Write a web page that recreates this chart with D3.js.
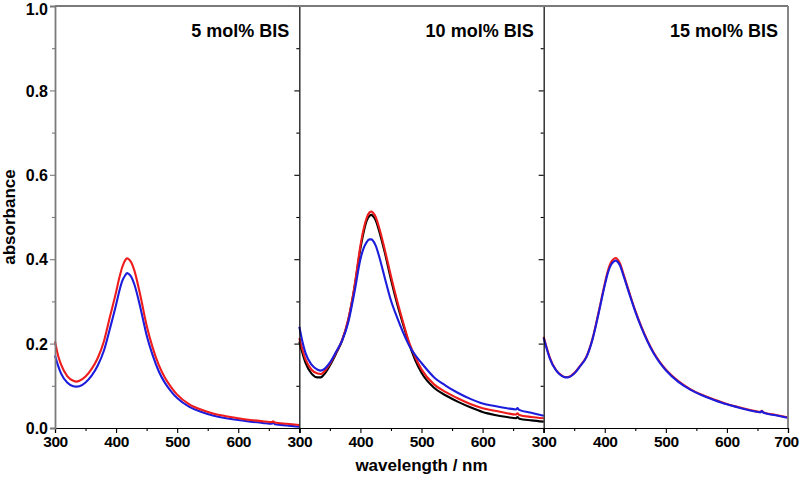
<!DOCTYPE html>
<html>
<head>
<meta charset="utf-8">
<script src="https://cdn.jsdelivr.net/npm/d3@7/dist/d3.min.js"></script>
<style>
  html, body { margin: 0; padding: 0; background: #fff; }
  svg { display: block; font-family: "Liberation Sans", Arial, sans-serif; }
</style>
</head>
<body>
<svg id="chart" width="800" height="480"></svg>
<script>
// ---------- data ----------
const wavelengths = [300,305,310,320,330,335,340,350,360,370,380,390,400,405,410,415,418,420,425,430,440,450,460,470,480,490,500,520,540,560,580,600,620,640,655,657,660,680,700];

const panelTitles = ["5 mol% BIS", "10 mol% BIS", "15 mol% BIS"];

const p1Red  = [.205,.172,.150,.123,.112,.110,.112,.122,.140,.166,.205,.264,.322,.354,.381,.398,.402,.401,.392,.373,.312,.243,.190,.149,.119,.097,.079,.056,.043,.034,.028,.023,.019,.016,.014,.016,.013,.010,.007];
const p1Blue = [.172,.148,.129,.108,.099,.098,.099,.108,.124,.148,.183,.236,.292,.323,.348,.362,.367,.366,.358,.340,.284,.220,.172,.134,.107,.087,.071,.050,.038,.029,.023,.019,.015,.012,.010,.013,.009,.006,.003];

const p2Black = [.205,.178,.155,.129,.120,.120,.126,.148,.176,.207,.255,.330,.425,.462,.490,.503,.505,.503,.492,.470,.415,.352,.295,.245,.198,.160,.131,.096,.077,.062,.049,.038,.031,.026,.023,.026,.022,.018,.015];
const p2Red   = [.213,.186,.163,.138,.129,.128,.133,.152,.178,.208,.257,.333,.432,.470,.497,.511,.513,.511,.500,.478,.422,.360,.302,.250,.202,.167,.139,.104,.085,.070,.057,.047,.041,.035,.032,.035,.031,.026,.023];
const p2Blue  = [.240,.205,.178,.150,.138,.136,.139,.155,.180,.207,.250,.320,.400,.425,.440,.447,.447,.445,.432,.410,.355,.302,.262,.226,.195,.172,.154,.121,.100,.083,.069,.058,.052,.047,.044,.047,.043,.036,.029];

const p3Red  = [.216,.190,.167,.138,.124,.121,.121,.130,.148,.169,.212,.275,.342,.372,.392,.401,.403,.401,.390,.368,.322,.278,.240,.207,.179,.157,.139,.112,.092,.078,.067,.057,.049,.042,.038,.041,.037,.031,.025];
const p3Blue = [.214,.188,.165,.137,.123,.120,.120,.129,.147,.168,.210,.272,.338,.367,.386,.395,.397,.395,.385,.364,.319,.276,.238,.205,.177,.155,.137,.110,.091,.077,.066,.056,.048,.041,.037,.040,.036,.030,.024];

const xMajorTicks = [300,400,500,600,700];
const xMinorTicks = [350,450,550,650];
const yMajorTicks = [0.0,0.2,0.4,0.6,0.8,1.0];
const yMinorTicks = [0.1,0.3,0.5,0.7,0.9];

const colors = { black: "#000000", red: "#ee1c1c", blue: "#1c1cdc" };

const panels = [
  { title: panelTitles[0], series: [{v: p1Blue, c: colors.blue}, {v: p1Red, c: colors.red}], labels: [300,400,500,600] },
  { title: panelTitles[1], series: [{v: p2Black, c: colors.black}, {v: p2Red, c: colors.red}, {v: p2Blue, c: colors.blue}], labels: [300,400,500,600] },
  { title: panelTitles[2], series: [{v: p3Red, c: colors.red}, {v: p3Blue, c: colors.blue}], labels: [300,400,500,600,700] }
];

// ---------- layout ----------
const svg = d3.select("#chart");
const mLeft = 55, mRight = 788, mTop = 6, mBottom = 428;
const pw = (mRight - mLeft) / 3;

const y = d3.scaleLinear().domain([0, 1]).range([mBottom, mTop]);

panels.forEach((p, i) => {
  const x0 = mLeft + i * pw, x1 = x0 + pw;
  const x = d3.scaleLinear().domain([300, 700]).range([x0, x1]);
  const g = svg.append("g");

  // curves
  const line = d3.line()
    .x((d, k) => x(wavelengths[k]))
    .y(d => y(d))
    .curve(d3.curveMonotoneX);
  p.series.forEach(s => {
    g.append("path").datum(s.v)
      .attr("fill", "none").attr("stroke", s.c)
      .attr("stroke-width", 2.1).attr("stroke-linejoin", "round")
      .attr("d", line);
  });

  // bottom axis
  const xa = g.append("g").attr("transform", `translate(0,${mBottom})`)
    .call(d3.axisBottom(x).tickValues(xMajorTicks).tickSize(5)
      .tickFormat(d => p.labels.includes(d) ? d3.format("d")(d) : ""));
  xa.select(".domain").attr("stroke", "#000").attr("stroke-width", 1.2);
  xa.selectAll(".tick line").attr("stroke", "#000").attr("stroke-width", 1.1);
  xa.selectAll(".tick text").attr("font-size", 15.5).attr("font-weight", "bold")
    .attr("letter-spacing", "-0.4px")
    .attr("fill", "#000").attr("y", 8).attr("dy", "0.71em")
    .attr("dx", d => d === 700 ? -2 : 0);
  const xm = g.append("g").attr("transform", `translate(0,${mBottom})`)
    .call(d3.axisBottom(x).tickValues(xMinorTicks).tickSize(3).tickFormat(""));
  xm.select(".domain").remove();
  xm.selectAll(".tick line").attr("stroke", "#000").attr("stroke-width", 1.1);

  // left axis of each panel (ticks outward)
  const axColor = i === 0 ? "#7a7a7a" : "#000";
  const ya = g.append("g").attr("transform", `translate(${x0},0)`)
    .call(d3.axisLeft(y).tickValues(yMajorTicks).tickSize(5)
      .tickFormat(d => i === 0 ? d3.format(".1f")(d) : ""));
  ya.select(".domain").attr("stroke", axColor).attr("stroke-width", i === 0 ? 1.8 : 1.2);
  ya.selectAll(".tick line").attr("stroke", axColor).attr("stroke-width", 1.1);
  ya.selectAll(".tick text").attr("font-size", 16).attr("font-weight", "bold")
    .attr("fill", "#000").attr("x", -7).attr("dy", "0.36em")
    .attr("y", d => d === 1 ? 3 : 0);
  const ym = g.append("g").attr("transform", `translate(${x0},0)`)
    .call(d3.axisLeft(y).tickValues(yMinorTicks).tickSize(3).tickFormat(""));
  ym.select(".domain").remove();
  ym.selectAll(".tick line").attr("stroke", axColor).attr("stroke-width", 1.1);

  // panel title
  g.append("text").attr("x", x1 - 10).attr("y", 37)
    .attr("text-anchor", "end").attr("font-size", 18).attr("font-weight", "bold")
    .attr("fill", "#000").text(p.title);
});

// top and right frame
svg.append("line").attr("x1", mLeft).attr("x2", mRight).attr("y1", mTop).attr("y2", mTop)
  .attr("stroke", "#7a7a7a").attr("stroke-width", 1.8);
svg.append("line").attr("x1", mRight).attr("x2", mRight).attr("y1", mTop).attr("y2", mBottom)
  .attr("stroke", "#7a7a7a").attr("stroke-width", 1.8);

// axis titles
svg.append("text").attr("transform", `translate(15,${(mTop + mBottom) / 2}) rotate(-90)`)
  .attr("text-anchor", "middle").attr("font-size", 17).attr("font-weight", "bold")
  .attr("fill", "#000").text("absorbance");
svg.append("text").attr("x", (mLeft + mRight) / 2).attr("y", 471)
  .attr("text-anchor", "middle").attr("font-size", 17).attr("font-weight", "bold")
  .attr("fill", "#000").text("wavelength / nm");
</script>
</body>
</html>
